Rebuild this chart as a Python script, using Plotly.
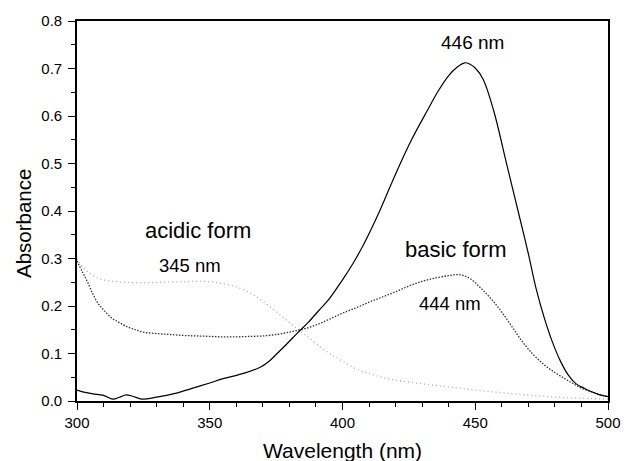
import plotly.graph_objects as go

# Absorption spectra (wavelength in nm, absorbance)
wl_solid = [300, 303, 306, 310, 313.5, 316, 318.5, 321, 324.5, 330, 337, 343, 350, 355, 362,
            369, 372, 375, 379, 383, 387, 391, 395, 400, 404, 408, 414, 420, 426, 432, 436,
            440, 443, 446, 448, 450, 453, 457, 462, 467, 470, 473, 476, 479, 482, 485, 488,
            491, 494, 497, 500]
abs_solid = [0.023, 0.018, 0.015, 0.012, 0.004, 0.008, 0.013, 0.010, 0.004, 0.008, 0.016, 0.026,
             0.038, 0.047, 0.057, 0.071, 0.082, 0.098, 0.120, 0.143, 0.165, 0.190, 0.215, 0.255,
             0.290, 0.330, 0.400, 0.478, 0.550, 0.612, 0.652, 0.685, 0.702, 0.712, 0.709, 0.701,
             0.677, 0.610, 0.495, 0.380, 0.310, 0.235, 0.175, 0.125, 0.085, 0.055, 0.036, 0.027,
             0.019, 0.013, 0.009]

wl_basic = [300, 302, 304, 306, 308, 310, 313, 316, 319, 322, 325, 330, 335, 340, 345, 350, 355,
            360, 365, 370, 375, 380, 385, 390, 395, 400, 405, 410, 415, 420, 425, 430, 435, 440,
            444, 448, 452, 456, 460, 464, 468, 472, 476, 480, 484, 487, 490, 494, 497, 500]
abs_basic = [0.295, 0.272, 0.250, 0.225, 0.205, 0.192, 0.175, 0.165, 0.156, 0.150, 0.145, 0.142,
             0.140, 0.138, 0.137, 0.136, 0.135, 0.135, 0.136, 0.137, 0.140, 0.145, 0.151, 0.160,
             0.172, 0.185, 0.196, 0.208, 0.219, 0.230, 0.242, 0.252, 0.259, 0.264, 0.266, 0.258,
             0.238, 0.215, 0.187, 0.155, 0.123, 0.097, 0.076, 0.060, 0.046, 0.036, 0.027, 0.019,
             0.013, 0.009]

wl_acidic = [300, 302, 305, 308, 312, 318, 325, 332, 340, 345, 350, 355, 360, 365, 370, 375, 380,
             384, 388, 392, 396, 400, 405, 410, 415, 420, 426, 432, 438, 444, 450, 457, 463, 469,
             475, 481, 487, 494, 500]
abs_acidic = [0.300, 0.283, 0.268, 0.258, 0.253, 0.250, 0.249, 0.250, 0.251, 0.252, 0.251, 0.247,
              0.240, 0.228, 0.210, 0.188, 0.165, 0.148, 0.130, 0.112, 0.097, 0.084, 0.068, 0.058,
              0.050, 0.044, 0.039, 0.035, 0.031, 0.027, 0.023, 0.019, 0.016, 0.013, 0.010, 0.008,
              0.006, 0.005, 0.004]

# Text labels placed on the chart (text, wavelength, absorbance, font size)
label_text = ["446 nm", "acidic form", "345 nm", "basic form", "444 nm"]
label_x = [449, 345.5, 342.5, 442.5, 440.6]
label_y = [0.754, 0.360, 0.286, 0.318, 0.206]
label_size = [19, 22, 18.5, 22, 18.5]

x_ticks = [300, 350, 400, 450, 500]
y_ticks = [0.0, 0.1, 0.2, 0.3, 0.4, 0.5, 0.6, 0.7, 0.8]

FONT = "Liberation Sans, Arial, sans-serif"

fig = go.Figure()
fig.add_trace(go.Scatter(x=wl_acidic, y=abs_acidic, mode="lines", line_shape="spline",
                         line=dict(color="#a8a8a8", width=1.3, dash="1px,3px")))
fig.add_trace(go.Scatter(x=wl_basic, y=abs_basic, mode="lines", line_shape="spline",
                         line=dict(color="#333333", width=1.3, dash="1.5px,1.5px")))
fig.add_trace(go.Scatter(x=wl_solid, y=abs_solid, mode="lines", line_shape="spline",
                         line=dict(color="#000000", width=1.2)))

annotations = []
for t, x, y, s in zip(label_text, label_x, label_y, label_size):
    annotations.append(dict(x=x, y=y, xref="x", yref="y", text=t, showarrow=False,
                            xanchor="center", yanchor="middle",
                            font=dict(family=FONT, size=s, color="#000")))
annotations.append(dict(x=0.5, y=-0.129, xref="paper", yref="paper", text="Wavelength (nm)",
                        xanchor="center", yanchor="middle", showarrow=False,
                        font=dict(family=FONT, size=21, color="#000")))
annotations.append(dict(x=-0.102, y=0.468, xref="paper", yref="paper", text="Absorbance",
                        textangle=-90, xanchor="center", yanchor="middle", showarrow=False,
                        font=dict(family=FONT, size=20.5, color="#000")))

axis_common = dict(showline=True, linecolor="#000", linewidth=1.6, mirror=True,
                   showgrid=False, zeroline=False, ticks="outside",
                   tickwidth=1.4, tickcolor="#000",
                   tickfont=dict(family=FONT, size=15, color="#000"))

fig.update_layout(
    width=633, height=461, autosize=False,
    margin=dict(l=77, r=16, t=21, b=60),
    paper_bgcolor="white", plot_bgcolor="white",
    showlegend=False,
    annotations=annotations,
    xaxis=dict(range=[300, 500], tickvals=x_ticks, ticklen=7,
               minor=dict(dtick=10, ticks="outside", ticklen=4, tickwidth=1.2, tickcolor="#000"),
               **axis_common),
    yaxis=dict(range=[0, 0.8], tickvals=y_ticks, tickformat=".1f", ticklen=7,
               ticklabelstandoff=3,
               minor=dict(dtick=0.05, ticks="outside", ticklen=4, tickwidth=1.2, tickcolor="#000"),
               **axis_common),
)

fig.write_html("out.html")
